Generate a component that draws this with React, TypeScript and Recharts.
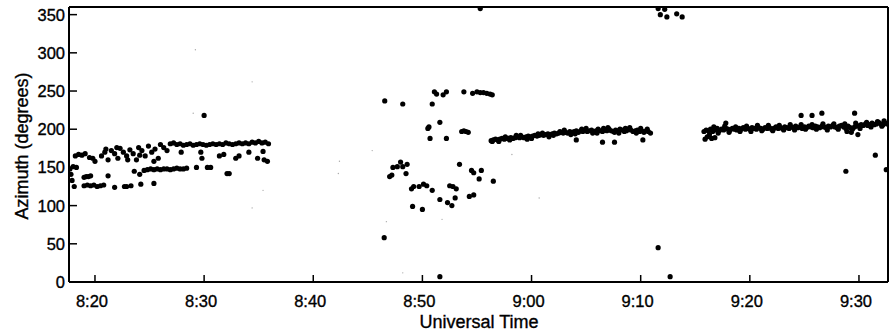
import React from 'react';
import { ScatterChart, Scatter, XAxis, YAxis, ReferenceLine } from 'recharts';

// minutes after 8:00 UT, azimuth in degrees
const earlyBand: [number, number][] = [
  [17.7, 148], [17.8, 141], [17.9, 133], [18.0, 151], [18.1, 125], [18.3, 150],
  [18.2, 165], [18.5, 167], [18.8, 166], [19.1, 168], [19.5, 163], [19.8, 162], [20.0, 158],
  [19.0, 137], [19.2, 138], [19.4, 138], [19.6, 139],
  [19.0, 126], [19.3, 127], [19.6, 126], [19.9, 127], [20.2, 125], [20.5, 126], [20.8, 127],
  [20.6, 165], [20.9, 170], [21.2, 160], [21.5, 172], [21.8, 168], [22.1, 162], [22.3, 175],
  [22.6, 170], [22.9, 165], [23.2, 173], [23.5, 168], [23.8, 160], [24.0, 176], [24.3, 172],
  [24.6, 165], [24.9, 178], [25.2, 170], [25.5, 174], [25.8, 162], [26.0, 180], [26.3, 176],
  [26.6, 172], [26.9, 181], [21.0, 174], [22.0, 176], [23.0, 160], [24.1, 166], [25.4, 158],
  [27.2, 182], [27.5, 180], [27.8, 181], [28.1, 179], [28.4, 180], [28.7, 181], [29.0, 179],
  [29.3, 180], [29.6, 181], [29.9, 180], [30.2, 179], [30.5, 180], [30.8, 181], [31.1, 180],
  [31.4, 181], [31.7, 180], [32.0, 182], [32.3, 181], [32.6, 180], [32.9, 181], [33.2, 182],
  [33.5, 181], [33.8, 182], [34.1, 181], [34.4, 183], [34.7, 182], [35.0, 184], [35.3, 182],
  [35.6, 183], [35.9, 181],
  [27.9, 170], [29.7, 170], [29.8, 162], [31.4, 165], [31.8, 167], [32.9, 162], [33.2, 165],
  [34.1, 170], [34.9, 162], [35.4, 171], [35.5, 160], [35.8, 158],
];

const earlyLow: [number, number][] = [
  [21.2, 139], [21.8, 124], [22.7, 125], [22.9, 125], [23.3, 126], [23.6, 145], [24.1, 141],
  [24.2, 128], [25.4, 129], [24.5, 146], [24.8, 147], [25.1, 148], [25.4, 147], [25.7, 148],
  [26.0, 147], [26.3, 148], [26.6, 148], [26.9, 147], [27.2, 148], [27.5, 149], [27.8, 148],
  [28.1, 148], [28.4, 149], [29.3, 150], [30.3, 150], [30.6, 150], [32.1, 142], [32.3, 142],
  [30.0, 218],
];

const midScatter: [number, number][] = [
  [46.55, 237], [48.2, 233], [50.9, 233], [51.1, 249], [51.3, 246], [51.9, 245], [52.2, 249],
  [53.8, 249], [54.6, 247], [55.0, 249], [55.3, 248], [55.6, 248], [55.9, 247], [56.2, 246],
  [56.4, 245], [50.5, 201], [50.6, 203], [51.6, 209], [50.7, 188], [52.2, 188], [53.6, 197],
  [53.8, 198], [54.0, 197], [54.2, 196], [47.0, 138], [47.2, 140], [47.3, 150], [47.7, 151],
  [48.0, 157], [48.2, 151], [48.6, 154], [48.5, 142], [49.0, 122], [49.2, 125], [49.7, 125],
  [50.1, 128], [50.4, 126], [50.9, 120], [49.1, 99], [50.0, 95], [51.6, 108], [52.3, 104],
  [52.7, 100], [53.0, 110], [52.5, 126], [52.8, 125], [53.1, 122], [53.4, 154], [54.5, 146],
  [54.7, 143], [55.4, 146], [55.2, 135], [54.3, 112], [54.7, 114], [56.5, 132], [46.5, 58],
  [51.6, 7], [55.3, 358],
];

const nineBand: [number, number][] = [
  [56.3, 185], [56.5, 186], [56.7, 187], [56.9, 186], [57.1, 187], [57.3, 188], [57.5, 187],
  [57.7, 188], [57.9, 188], [58.1, 189], [58.3, 188], [58.5, 189], [58.7, 190], [58.9, 189],
  [59.1, 190], [59.3, 189], [59.5, 190], [59.7, 191], [59.9, 190], [60.1, 191], [60.3, 192],
  [60.5, 191], [60.7, 192], [60.9, 193], [61.1, 192], [61.3, 193], [61.5, 194], [61.7, 193],
  [61.9, 194], [62.1, 195], [62.3, 194], [62.5, 195], [62.7, 196], [62.9, 195], [63.1, 196],
  [63.3, 195], [63.5, 197], [63.7, 196], [63.9, 197], [64.1, 198], [64.3, 196], [64.5, 198],
  [64.7, 197], [64.9, 199], [65.1, 197], [65.3, 198], [65.5, 199], [65.7, 197], [65.9, 198],
  [66.1, 200], [66.3, 198], [66.5, 197], [66.7, 199], [66.9, 198], [67.1, 200], [67.3, 198],
  [67.5, 197], [67.7, 199], [67.9, 198], [68.1, 200], [68.3, 199], [68.5, 197], [68.7, 198],
  [68.9, 200], [69.1, 199], [69.3, 197], [69.5, 198], [69.7, 199], [69.9, 197], [70.1, 198],
  [70.3, 196], [70.5, 198], [70.7, 197], [70.9, 195],
  [57.0, 184], [58.0, 186], [59.0, 192], [60.0, 188], [61.0, 195], [62.0, 192], [63.0, 199],
  [64.0, 194], [65.0, 201], [66.0, 195], [67.0, 202], [68.0, 195], [69.0, 202], [70.0, 201],
  [57.6, 190], [58.6, 192], [59.6, 187], [60.6, 194], [61.6, 190], [62.6, 197], [63.6, 193],
  [64.6, 200], [65.6, 195], [66.6, 201], [67.6, 196], [68.6, 201], [69.6, 195], [70.6, 200],
  [56.4, 184], [64.1, 186], [66.5, 183], [67.6, 183], [70.2, 186],
];

const tenPast: [number, number][] = [
  [71.6, 358], [72.2, 357], [71.8, 350], [72.4, 347], [73.3, 351], [73.8, 347],
  [71.6, 45], [72.7, 7],
];

const lateBand: [number, number][] = [
  [75.9, 187], [76.5, 188], [76.8, 189], [76.1, 190], [77.8, 208],
  [75.8, 197], [76.0, 199], [76.2, 198], [76.4, 200], [76.6, 197], [76.8, 199], [77.0, 201],
  [77.2, 198], [77.4, 200], [77.6, 199], [77.8, 201], [78.0, 200], [78.2, 199], [78.4, 201],
  [78.6, 200], [78.8, 199], [79.0, 201], [79.2, 200], [79.4, 202], [79.6, 200], [79.8, 201],
  [80.0, 200], [80.2, 202], [80.4, 201], [80.6, 200], [80.8, 202], [81.0, 201], [81.2, 200],
  [81.4, 202], [81.6, 201], [81.8, 202], [82.0, 200], [82.2, 201], [82.4, 203], [82.6, 201],
  [82.8, 202], [83.0, 201], [83.2, 203], [83.4, 202], [83.6, 201], [83.8, 203], [84.0, 202],
  [84.2, 204], [84.4, 202], [84.6, 203], [84.8, 201], [85.0, 203], [85.2, 202], [85.4, 204],
  [85.6, 203], [85.8, 202], [86.0, 204], [86.2, 203], [86.4, 202], [86.6, 204], [86.8, 203],
  [87.0, 202], [87.2, 204], [87.4, 203], [87.6, 205], [87.8, 203], [88.0, 202], [88.2, 204],
  [88.4, 205], [88.6, 203], [88.8, 201], [89.0, 204], [89.2, 202], [89.4, 200], [89.6, 203],
  [89.8, 205], [90.0, 204], [90.2, 206], [90.4, 205], [90.6, 207], [90.8, 205], [91.0, 206],
  [91.2, 208], [91.4, 206], [91.6, 207], [91.8, 209], [92.0, 207], [92.2, 206], [92.4, 208],
  [92.6, 207],
  [76.3, 193], [77.1, 195], [78.1, 196], [79.1, 197], [80.1, 197], [81.1, 198], [82.1, 198],
  [83.1, 199], [84.1, 199], [85.1, 200], [86.1, 200], [87.1, 199], [88.1, 200], [88.9, 197],
  [89.3, 196], [89.9, 193], [90.1, 201], [91.1, 203], [92.1, 204],
  [76.7, 203], [77.7, 204], [78.7, 203], [79.7, 204], [80.7, 205], [81.7, 205], [82.7, 205],
  [83.7, 206], [84.7, 206], [85.7, 206], [86.7, 207], [87.7, 207], [88.7, 207], [89.7, 208],
  [90.7, 209], [91.7, 210], [92.3, 211],
  [84.7, 218], [85.7, 218], [86.6, 221], [89.6, 221], [91.5, 166], [88.8, 145], [92.5, 147],
];

// faint scanner specks
const specks: [number, number][] = [
  [29.2, 304], [34.4, 262], [29.0, 221], [35.4, 120], [34.4, 97], [45.4, 172], [42.4, 158],
  [58.2, 167], [42.3, 142], [46.7, 79], [51.8, 82], [48.2, 12], [60.7, 110],
];

const xTicks = [20, 30, 40, 50, 60, 70, 80, 90];
const yTicks = [0, 50, 100, 150, 200, 250, 300, 350];
const xDomain: [number, number] = [17.62, 92.66];
const yDomain: [number, number] = [0, 360];

const toRows = (pts: [number, number][]) => pts.map(([t, az]) => ({ t, az }));
const dots = toRows([...earlyBand, ...earlyLow, ...midScatter, ...nineBand, ...tenPast, ...lateBand]);
const speckRows = toRows(specks);

const fmtTime = (m: number) => `${8 + Math.floor(m / 60)}:${String(m % 60).padStart(2, '0')}`;

const FONT = '"Liberation Sans", Arial, Helvetica, sans-serif';
const textStyle = { fontSize: 16.5, fontFamily: FONT, fill: '#000', stroke: '#000', strokeWidth: 0.35 };

const BottomTick = (props: any) => {
  const { x, y, payload } = props;
  return (
    <g>
      <line x1={x} y1={y} x2={x} y2={y - 7} stroke="#000" strokeWidth={1.5} />
      <text x={x - 3} y={y + 24.5} textAnchor="middle" {...textStyle}>
        {fmtTime(payload.value)}
      </text>
    </g>
  );
};

const TopTick = (props: any) => {
  const { x, y } = props;
  return <line x1={x} y1={y} x2={x} y2={y + 7} stroke="#000" strokeWidth={1.5} />;
};

const LeftTick = (props: any) => {
  const { x, y, payload } = props;
  return (
    <g>
      <line x1={x} y1={y} x2={x + 8} y2={y} stroke="#000" strokeWidth={1.5} />
      <text x={x - 4} y={y + 6} textAnchor="end" {...textStyle}>
        {payload.value}
      </text>
    </g>
  );
};

const RightTick = (props: any) => {
  const { x, y } = props;
  return <line x1={x} y1={y} x2={x - 7} y2={y} stroke="#000" strokeWidth={1.5} />;
};

const Dot = (props: any) => <circle cx={props.cx} cy={props.cy} r={2.6} fill="#000" />;
const Speck = (props: any) => <circle cx={props.cx} cy={props.cy} r={0.7} fill="#aaa" />;

const frame = { stroke: '#000', strokeWidth: 2, ifOverflow: 'visible' as const };

export default function App() {
  return (
    <div style={{ position: 'absolute', left: 0, top: 0, width: 889, height: 335, background: '#fff' }}>
      <ScatterChart width={889} height={335} margin={{ top: 7, right: 1, bottom: 0, left: 0 }}>
        <XAxis
          xAxisId="b"
          type="number"
          dataKey="t"
          domain={xDomain}
          ticks={xTicks}
          allowDataOverflow
          height={53}
          tickSize={0}
          tickMargin={0}
          tickLine={false}
          axisLine={false}
          tick={<BottomTick />}
          label={() => (
            <text x={479} y={328} textAnchor="middle" {...textStyle} fontSize={18}>
              Universal Time
            </text>
          )}
        />
        <XAxis
          xAxisId="t"
          orientation="top"
          type="number"
          dataKey="t"
          domain={xDomain}
          ticks={xTicks}
          allowDataOverflow
          height={0}
          tickSize={0}
          tickMargin={0}
          tickLine={false}
          axisLine={false}
          tick={<TopTick />}
        />
        <YAxis
          yAxisId="l"
          type="number"
          dataKey="az"
          domain={yDomain}
          ticks={yTicks}
          allowDataOverflow
          width={69}
          tickSize={0}
          tickMargin={0}
          tickLine={false}
          axisLine={false}
          tick={<LeftTick />}
          label={() => (
            <text
              x={28}
              y={146}
              transform="rotate(-90 28 146)"
              textAnchor="middle"
              {...textStyle}
              fontSize={18}
            >
              Azimuth (degrees)
            </text>
          )}
        />
        <YAxis
          yAxisId="r"
          orientation="right"
          type="number"
          dataKey="az"
          domain={yDomain}
          ticks={yTicks}
          allowDataOverflow
          width={0}
          tickSize={0}
          tickMargin={0}
          tickLine={false}
          axisLine={false}
          tick={<RightTick />}
        />
        <ReferenceLine xAxisId="b" yAxisId="l" x={xDomain[0]} {...frame} />
        <ReferenceLine xAxisId="b" yAxisId="l" x={xDomain[1]} {...frame} />
        <ReferenceLine xAxisId="b" yAxisId="l" y={yDomain[0]} {...frame} />
        <ReferenceLine xAxisId="b" yAxisId="l" y={yDomain[1]} {...frame} />
        <Scatter xAxisId="b" yAxisId="l" data={speckRows} shape={<Speck />} isAnimationActive={false} />
        <Scatter xAxisId="b" yAxisId="l" data={dots} shape={<Dot />} isAnimationActive={false} />
      </ScatterChart>
    </div>
  );
}
